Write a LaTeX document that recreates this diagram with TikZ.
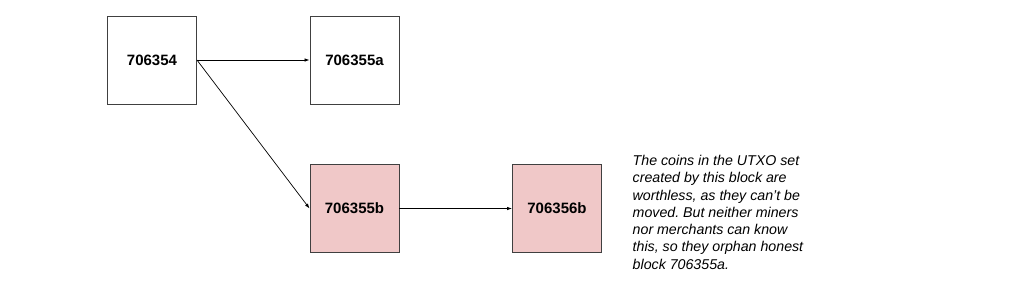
\documentclass[tikz,border=0pt]{standalone}
\usepackage{fontspec}
\setmainfont{Liberation Sans}
\usetikzlibrary{arrows.meta}
\definecolor{boxline}{HTML}{404040}
\definecolor{pinkfill}{HTML}{F0C8C8}
\frenchspacing
\begin{document}
\begin{tikzpicture}[x=1pt,y=-1pt,
  blockbox/.style={draw=boxline,line width=0.9pt,minimum width=89pt,minimum height=88pt,inner sep=0pt,font=\fontsize{15}{18}\selectfont\bfseries},
  badbox/.style={blockbox,fill=pinkfill},
  conn/.style={draw=black,line width=0.7pt,-{Latex[length=5pt,width=3.5pt]}}]
\useasboundingbox (0,0) rectangle (1024,287);
\node[blockbox] (b354) at (152,60) {706354};
\node[blockbox] (b355a) at (354.5,60) {706355a};
\node[badbox] (b355b) at (354.5,208.5) {706355b};
\node[badbox] (b356b) at (557,208.5) {706356b};
\draw[conn] (b354.east) -- (b355a.west);
\draw[conn] (b354.east) -- (b355b.west);
\draw[conn] (b355b.east) -- (b356b.west);
\node[anchor=north west,inner sep=0pt,align=left,font=\fontsize{14.2}{17.3}\selectfont\itshape\frenchspacing] (note) at (632.5,155)
{The coins in the UTXO set\\created by this block are\\worthless, as they can’t be\\moved. But neither miners\\nor merchants can know\\this, so they orphan honest\\block 706355a.};
\end{tikzpicture}
\end{document}
